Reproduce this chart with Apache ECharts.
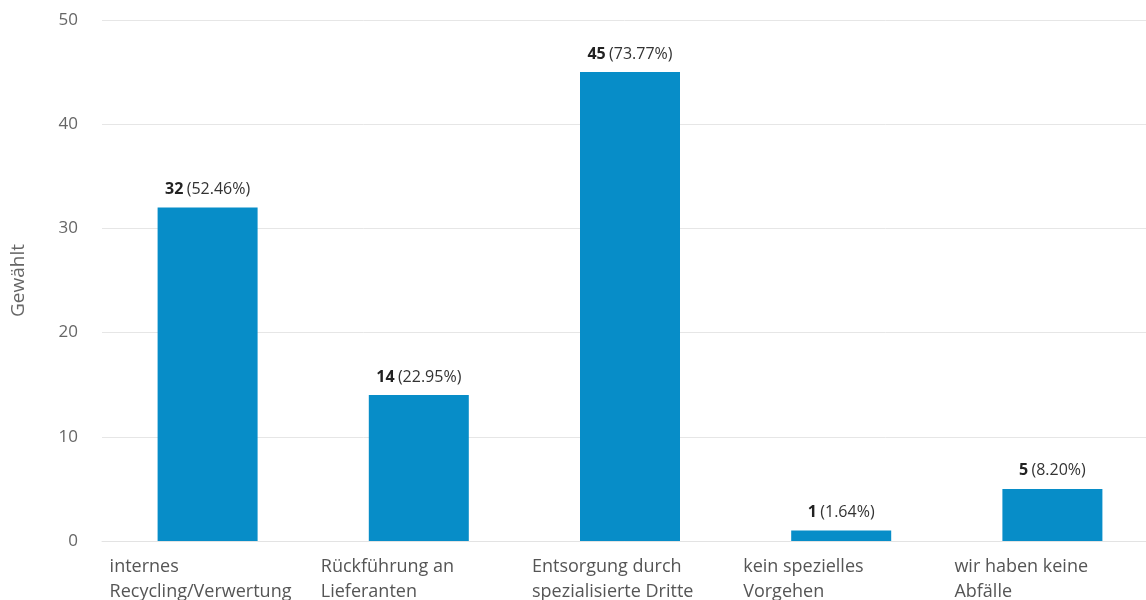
<!DOCTYPE html>
<html>
<head>
<meta charset="utf-8">
<script src="https://cdn.jsdelivr.net/npm/echarts@6/dist/echarts.min.js"></script>
<style>html,body{margin:0;padding:0;background:#fff}#c{width:1146px;height:600px}</style>
</head>
<body>
<div id="c"></div>
<script>
const categories = ['internes\nRecycling/Verwertung', 'Rückführung an\nLieferanten', 'Entsorgung durch\nspezialisierte Dritte', 'kein spezielles\nVorgehen', 'wir haben keine\nAbfälle'];
const counts = [32, 14, 45, 1, 5];
const percents = ['52.46%', '22.95%', '73.77%', '1.64%', '8.20%'];
const yTicks = { min: 0, max: 50, interval: 10 };
const yName = 'Gewählt';

const font = '"Open Sans", "Noto Sans", sans-serif';
const chart = echarts.init(document.getElementById('c'), null, { renderer: 'canvas' });
chart.setOption({
  animation: false,
  grid: { left: 102, right: -12, top: 20, bottom: 59, outerBoundsMode: 'none', containLabel: false },
  xAxis: {
    type: 'category',
    data: categories,
    axisLine: { show: true, lineStyle: { color: '#e3e3e3', width: 1 } },
    axisTick: { show: false },
    axisLabel: {
      interval: 0,
      margin: 13,
      align: 'center',
      formatter: v => v.split('\n').map(l => '{a|' + l + '}').join('\n'),
      rich: { a: { width: 196, align: 'left', fontSize: 18, lineHeight: 25, color: '#555', fontFamily: font } }
    }
  },
  yAxis: {
    type: 'value',
    min: yTicks.min, max: yTicks.max, interval: yTicks.interval,
    name: yName,
    nameLocation: 'middle',
    nameGap: 74,
    nameRotate: 90,
    nameTextStyle: { color: '#666', fontSize: 19, fontFamily: font },
    axisLine: { show: false },
    axisTick: { show: false },
    axisLabel: { color: '#666', fontSize: 17, margin: 24, fontFamily: font },
    splitLine: { lineStyle: { color: '#e6e6e6', width: 1 } }
  },
  series: [{
    type: 'bar',
    data: counts,
    barWidth: 100,
    itemStyle: { color: '#078dc8' },
    label: {
      show: true,
      position: 'top',
      distance: 10,
      formatter: p => '{b|' + p.value + '} {n|(' + percents[p.dataIndex] + ')}',
      rich: {
        b: { fontWeight: 'bold', fontSize: 16, color: '#222', fontFamily: font },
        n: { fontSize: 16, color: '#333', fontFamily: font }
      }
    }
  }]
});
</script>
</body>
</html>
